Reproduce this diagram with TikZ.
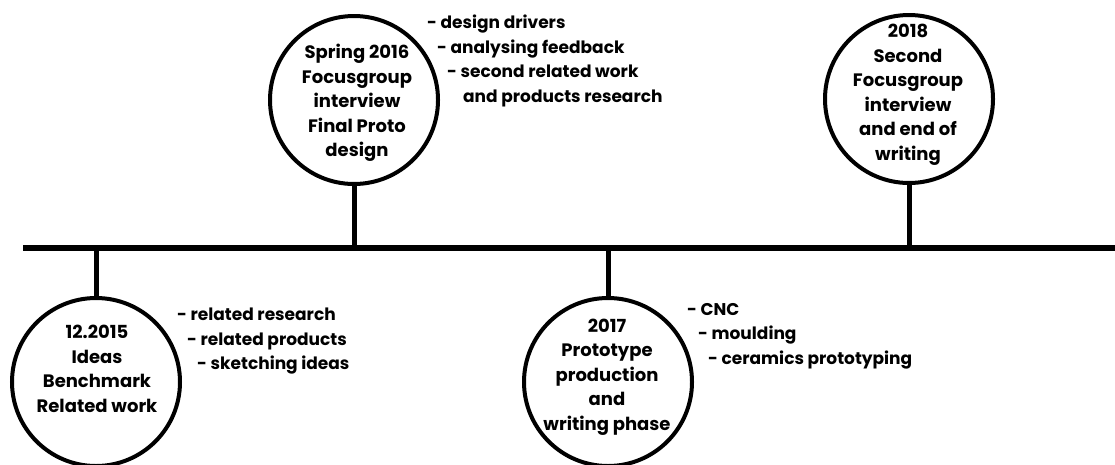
\documentclass[tikz,border=0pt]{standalone}
\usepackage{fontspec}
\setmainfont{Poppins}
\begin{document}
\begin{tikzpicture}[x=1pt,y=-1pt,
  event/.style={circle,draw=black,line width=4pt,minimum size=168pt,inner sep=0pt,fill=white},
  ctext/.style={align=center,font=\bfseries\fontsize{18}{24.5}\selectfont,inner sep=0pt},
  btext/.style={align=left,anchor=north west,font=\bfseries\fontsize{17}{24.5}\selectfont,inner sep=0pt},
  stem/.style={line width=5pt},
  axis/.style={line width=6pt}]
\useasboundingbox (0,0) rectangle (1115,464);
\coordinate (L) at (23,248);
\coordinate (R) at (1115,248);
\draw[axis] (L) -- (R);
% events
\node[event] (c1) at (96,382) {};
\node[event] (c2) at (354,100) {};
\node[event] (c3) at (608,382) {};
\node[event] (c4) at (909,99) {};
\draw[stem] (c1.north) -- (c1.north |- L);
\draw[stem] (c2.south) -- (c2.south |- L);
\draw[stem] (c3.north) -- (c3.north |- L);
\draw[stem] (c4.south) -- (c4.south |- L);
% circle texts
\node[ctext] (t1) at (97,369) {12.2015\\Ideas\\Benchmark\\Related work};
\node[ctext] (t2) at (357,103) {Spring 2016\\Focusgroup\\interview\\Final Proto\\design};
\node[ctext] (t3) at (607,377) {2017\\Prototype\\production\\and\\writing phase};
\node[ctext] (t4) at (908,95) {2018\\Second\\Focusgroup\\interview\\and end of\\writing};
% bullet texts
\node[btext] (b1) at (177,308) {- related research\\\hspace*{10pt}- related products\\\hspace*{20pt}- sketching ideas};
\node[btext] (b2) at (427,15) {- design drivers\\\hspace*{10pt}- analysing feedback\\\hspace*{20pt}- second related work\\\hspace*{36pt}and products research};
\node[btext] (b3) at (687,303) {- CNC\\\hspace*{11pt}- moulding\\\hspace*{21pt}- ceramics prototyping};
\end{tikzpicture}
\end{document}
